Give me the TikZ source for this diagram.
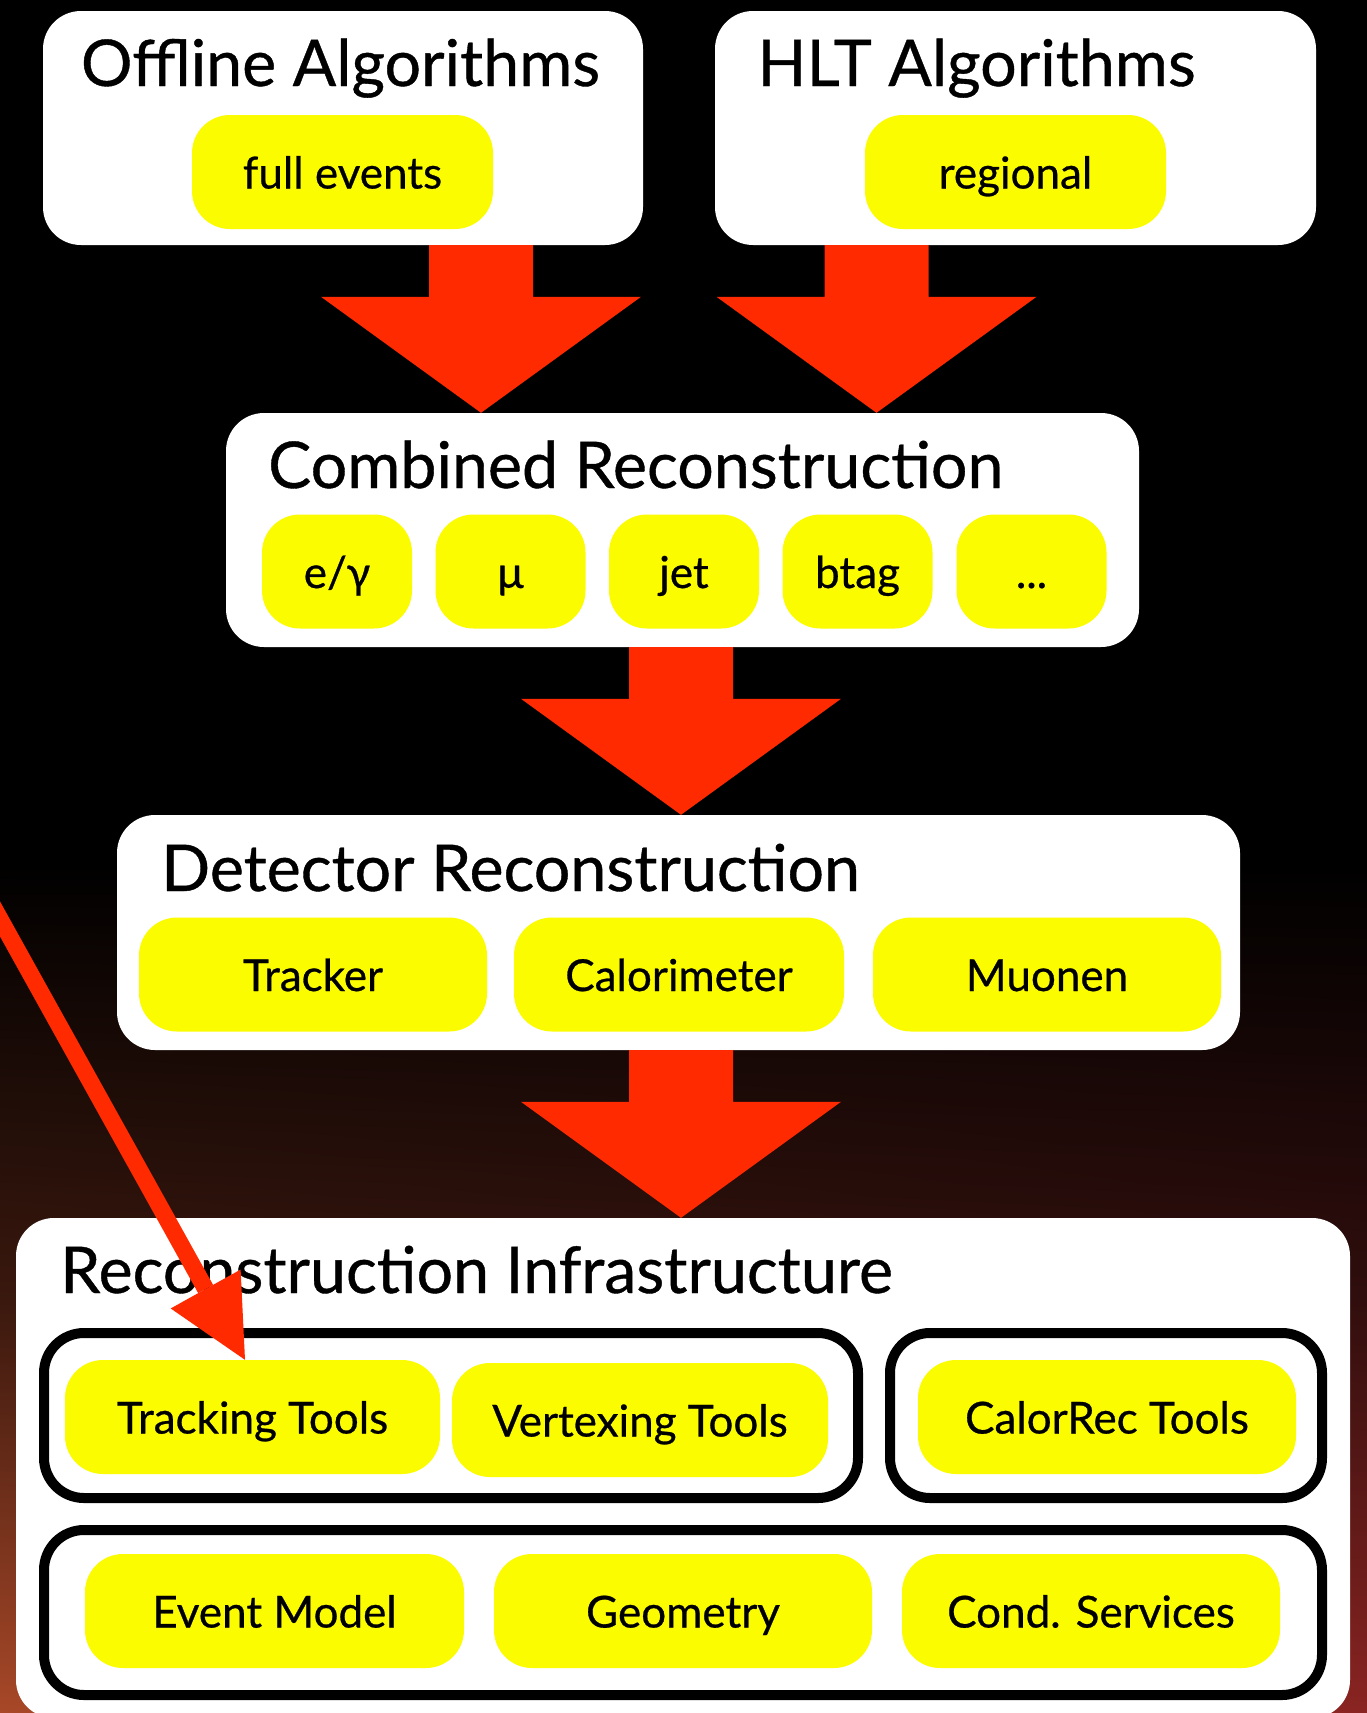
\documentclass[tikz,border=0pt]{standalone}
\usepackage{fontspec}
\setmainfont{Lato}[FakeBold=0.6]
\usetikzlibrary{arrows.meta,calc,shadings}
\definecolor{arrred}{RGB}{255,42,0}
\definecolor{pillyel}{RGB}{252,252,0}
\definecolor{bgml}{RGB}{58,24,14}
\definecolor{bgmr}{RGB}{48,14,13}
\definecolor{bgbl}{RGB}{168,72,40}
\definecolor{bgbr}{RGB}{138,36,34}
\newcommand\fatarrow[3]{\fill[arrred] let \p1=(#2.south -| #1), \p2=(#3.north -| #1) in
  (\x1-52pt,\y1) -- (\x1+52pt,\y1) -- (\x1+52pt,\y2+116pt) -- (\x1+160pt,\y2+116pt)
  -- (\x1,\y2) -- (\x1-160pt,\y2+116pt) -- (\x1-52pt,\y2+116pt) -- cycle;}
\begin{document}
\begin{tikzpicture}[x=1pt,y=-1pt,
  panel/.style={fill=white, rounded corners=38pt, inner sep=0pt},
  pill/.style={fill=pillyel, rounded corners=38pt, inner sep=0pt, minimum height=114pt,
    text height=33pt, text depth=0pt, font=\fontsize{44}{50}\selectfont},
  grp/.style={draw=black, line width=10pt, rounded corners=40pt, inner sep=0pt, minimum height=165pt},
  ttl/.style={font=\fontsize{64.5}{70}\selectfont, inner sep=0pt}]
\useasboundingbox (0,0) rectangle (1367,1713);
\clip (0,0) rectangle (1367,1713);
% background
\fill[black] (0,0) rectangle (1367,1713);
\shade[upper left=black, upper right=black, lower left=bgml, lower right=bgmr] (0,860) rectangle (1367,1300);
\shade[upper left=bgml, upper right=bgmr, lower left=bgbl, lower right=bgbr] (0,1300) rectangle (1367,1713);
% top panels
\node[panel, minimum width=600pt, minimum height=234pt] (off) at (343,128) {};
\node[panel, minimum width=601pt, minimum height=234pt] (hlt) at (1015.5,128) {};
\node[ttl, anchor=base] (offt) at (340.5,86) {Offline Algorithms};
\node[ttl, anchor=base] (hltt) at (976.5,86) {HLT Algorithms};
\node[pill, minimum width=301pt] (fullev) at (342.5,172) {full events};
\node[pill, minimum width=301pt] (regio) at (1015.5,172) {regional};
% combined
\node[panel, minimum width=913pt, minimum height=234pt] (comb) at (682.5,530) {};
\node[ttl, anchor=base west] (combt) at (268,488) {Combined Reconstruction};
\node[pill, minimum width=150pt] (egam) at (337,571.5) {e/γ};
\node[pill, minimum width=150pt] (mu) at (510.5,571.5) {μ};
\node[pill, minimum width=150pt] (jet) at (684,571.5) {jet};
\node[pill, minimum width=150pt] (btag) at (857.5,571.5) {btag};
\node[pill, minimum width=150pt] (dots) at (1031.5,571.5) {...};
% detector
\node[panel, minimum width=1123pt, minimum height=235pt] (det) at (678.5,932.5) {};
\node[ttl, anchor=base west] (dett) at (161,891) {Detector Reconstruction};
\node[pill, minimum width=348pt] (trk) at (313,974.5) {Tracker};
\node[pill, minimum width=330pt] (calo) at (679,974.5) {Calorimeter};
\node[pill, minimum width=348pt] (muon) at (1047,974.5) {Muonen};
% infrastructure
\node[panel, minimum width=1334pt, minimum height=500pt] (infra) at (683,1468) {};
\node[ttl, anchor=base west] (infrat) at (60,1293) {Reconstruction Infrastructure};
\node[grp, minimum width=814pt] (g1) at (451,1415.5) {};
\node[grp, minimum width=432pt] (g2) at (1106,1415.5) {};
\node[grp, minimum width=1278pt] (g3) at (683,1612.5) {};
\node[pill, minimum width=375pt] (tt) at (252.5,1417) {Tracking Tools};
\node[pill, minimum width=376pt] (vt) at (640,1420) {Vertexing Tools};
\node[pill, minimum width=378pt] (crt) at (1107,1417) {CalorRec Tools};
\node[pill, minimum width=379pt] (em) at (274.5,1611) {Event Model};
\node[pill, minimum width=378pt] (geo) at (683,1611) {Geometry};
\node[pill, minimum width=378pt] (cond) at (1091,1611) {Cond. Services};
% fat arrows
\coordinate (ax1) at (481,0);
\coordinate (ax2) at (876.5,0);
\coordinate (ax3) at (681,0);
\fatarrow{ax1}{off}{comb}
\fatarrow{ax2}{hlt}{comb}
\fatarrow{ax3}{comb}{det}
\fatarrow{ax3}{det}{infra}
% thin red arrow
\coordinate (redstart) at (-20,883);
\coordinate (redx) at (245,0);
\draw[arrred, line width=17pt, -{Triangle[width=80pt,length=81pt,line width=0pt]}] (redstart) -- (tt.north -| redx);
\end{tikzpicture}
\end{document}
